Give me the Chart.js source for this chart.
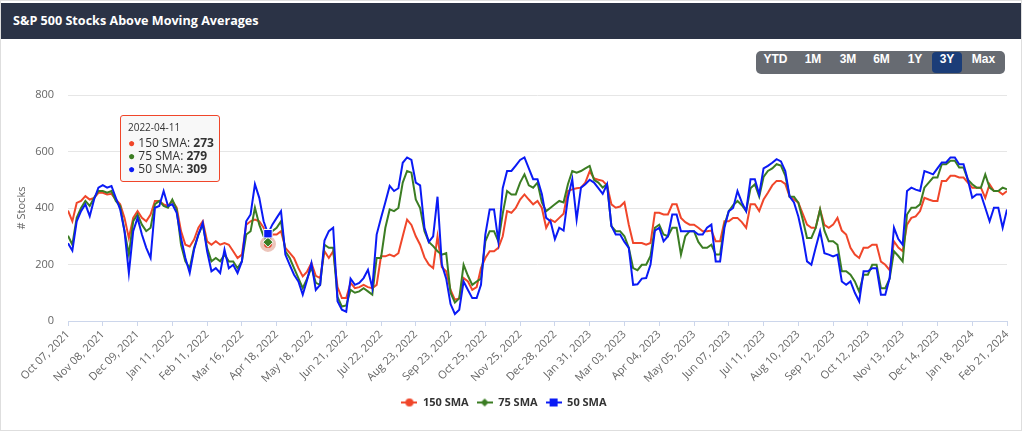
<!DOCTYPE html>
<html>
<head>
<meta charset="utf-8">
<title>S&amp;P 500 Stocks Above Moving Averages</title>
<script src="https://cdn.jsdelivr.net/npm/chart.js@4.4.1/dist/chart.umd.min.js"></script>
<style>
body { margin: 0; background: #fff; font-family: "Open Sans", sans-serif; }
#box { position: absolute; left: 0; top: 0; width: 1020px; height: 429px; border: 1px solid #dedede; }
#head { position: absolute; left: 0; top: 2px; width: 1020px; height: 36px; background: #2b3346;
  color: #fff; font: 700 12.6px "Open Sans", sans-serif; line-height: 36px; padding-left: 12px; box-sizing: border-box; }
#range { position: absolute; left: 755px; top: 50px; width: 249px; height: 23px; background: #676b72;
  border-radius: 5px; display: flex; }
#range span { display: block; height: 21px; margin-top: 1px; line-height: 22px; text-align: center; color: #fff;
  font: 700 12px "Liberation Sans", Arial, sans-serif; border-radius: 4px; }
#range span.on { background: #1b3d78; }
#wrap { position: absolute; left: 0; top: 79px; width: 1022px; height: 338px; }
#tip { position: absolute; display: none; background: rgba(247,247,247,0.9); border: 1px solid #f0462a;
  border-radius: 3px; padding: 5px 5px 6px 7px; color: #333; font: 12px "Open Sans", sans-serif; line-height: 13px;
  white-space: nowrap; pointer-events: none; }
#tip .d { font-size: 10px; margin-bottom: 2px; }
</style>
</head>
<body>
<div id="box">
  <div id="head">S&amp;P 500 Stocks Above Moving Averages</div>
  <div id="range">
    <span style="width:39px">YTD</span><span style="width:36px">1M</span><span style="width:34px">3M</span><span style="width:33px">6M</span><span style="width:34px">1Y</span><span class="on" style="width:30px">3Y</span><span style="width:43px">Max</span>
  </div>
  <div id="wrap"><canvas id="smaChart"></canvas><div id="tip"></div></div>
</div>
<script>
// tick labels on the date axis, one every 8 samples
const tickLabels = ['Oct 07, 2021', 'Nov 08, 2021', 'Dec 09, 2021', 'Jan 11, 2022', 'Feb 11, 2022', 'Mar 16, 2022',
  'Apr 18, 2022', 'May 18, 2022', 'Jun 21, 2022', 'Jul 22, 2022', 'Aug 23, 2022', 'Sep 23, 2022', 'Oct 25, 2022',
  'Nov 25, 2022', 'Dec 28, 2022', 'Jan 31, 2023', 'Mar 03, 2023', 'Apr 04, 2023', 'May 05, 2023', 'Jun 07, 2023',
  'Jul 11, 2023', 'Aug 10, 2023', 'Sep 12, 2023', 'Oct 12, 2023', 'Nov 13, 2023', 'Dec 14, 2023', 'Jan 18, 2024',
  'Feb 21, 2024'];
const samplesPerTick = 8;

// number of S&P 500 stocks above each moving average
const sma150 = [391,353,418,425,442,430,436,454,454,448,450,430,413,365,294,365,389,365,353,377,425,425,413,407,425,401,318,270,264,288,
  330,353,282,270,282,270,276,270,247,223,235,341,353,359,353,330,273,306,306,318,259,241,223,187,158,175,205,160,152,247,
  223,247,120,81,81,135,116,120,128,120,116,128,229,229,235,229,240,300,359,340,300,270,225,200,187,300,190,176,110,75,
  80,152,140,110,120,187,223,247,247,259,300,389,383,400,430,448,430,413,425,400,330,359,350,365,380,460,466,470,472,490,
  530,505,500,496,480,413,401,405,420,341,276,276,276,270,276,383,383,377,377,413,413,365,350,341,341,330,318,318,320,282,
  282,353,353,365,365,350,330,413,413,389,430,454,480,496,496,485,440,430,419,380,341,330,330,395,340,330,341,365,320,306,
  259,235,223,259,259,270,270,210,199,180,282,260,247,341,365,370,389,436,430,425,425,496,496,514,514,508,508,490,472,472,
  472,436,484,460,460,448,460];
const sma75 = [302,270,365,400,425,407,436,460,460,454,460,425,407,318,235,353,377,341,318,330,413,425,407,401,430,395,270,211,187,259,
  306,341,259,211,223,211,235,211,211,187,211,306,318,401,341,300,279,318,330,353,247,223,187,152,116,150,190,135,128,270,
  259,259,85,51,55,110,100,105,116,105,93,223,223,330,395,389,400,490,531,525,430,400,318,280,265,247,235,240,100,65,
  80,199,160,128,140,150,282,318,318,282,380,460,448,448,490,519,480,472,490,420,389,401,413,425,420,484,531,525,531,540,
  549,500,490,472,484,336,318,318,300,259,187,180,199,199,230,330,341,306,300,330,330,235,300,318,318,280,259,259,270,235,
  235,340,389,410,425,410,389,470,484,440,510,531,540,555,550,515,440,440,419,360,294,294,330,395,320,282,282,270,176,176,
  164,140,104,164,164,199,199,116,116,150,247,230,211,377,401,401,413,472,490,508,508,555,555,567,567,543,543,500,484,472,
  472,519,472,460,460,472,466];
const sma50 = [275,249,353,389,413,371,430,472,481,472,478,436,395,318,170,318,365,306,259,223,401,407,460,407,413,383,294,223,170,253,
  306,347,247,176,187,170,253,187,199,170,211,353,377,484,436,353,309,341,365,389,235,199,164,140,93,145,205,110,128,285,
  318,330,70,40,33,150,128,135,152,181,116,306,365,420,478,460,470,560,579,570,490,480,330,280,300,440,200,150,60,25,
  40,140,110,81,81,128,306,395,395,282,470,531,531,550,570,579,540,502,502,450,365,353,290,330,320,436,502,359,472,484,
  500,490,470,450,484,336,306,306,280,259,128,130,150,152,200,320,330,282,300,377,377,318,318,318,318,306,306,330,341,211,
  211,330,389,400,460,420,389,502,502,448,540,549,560,573,565,531,440,420,370,300,211,199,260,318,240,235,229,235,140,128,
  140,100,69,176,176,187,187,93,93,152,330,290,270,460,472,465,460,531,525,519,540,561,561,579,579,555,555,500,436,448,
  448,401,353,401,401,330,395];

// the sample the tooltip is pinned to
const hoverIndex = 46;
const hoverDate = '2022-04-11';

const red = '#f0462a', green = '#3b7d23', blue = '#0a1af5';

function toPoints(values) {
    return values.map((v, i) => ({ x: i / samplesPerTick, y: v }));
}

// small line + marker pictures for the legend
function legendIcon(color, shape) {
    const c = document.createElement('canvas');
    c.width = 16; c.height = 10;
    const g = c.getContext('2d');
    g.strokeStyle = color; g.fillStyle = color; g.lineWidth = 2;
    g.beginPath(); g.moveTo(0, 5); g.lineTo(16, 5); g.stroke();
    g.beginPath();
    if (shape === 'circle') g.arc(8, 5, 4, 0, Math.PI * 2);
    else if (shape === 'diamond') { g.moveTo(8, 1); g.lineTo(12, 5); g.lineTo(8, 9); g.lineTo(4, 5); g.closePath(); }
    else g.rect(4, 1, 8, 8);
    g.fill();
    return c;
}

const ctx = document.getElementById('smaChart').getContext('2d');
const smaChart = new Chart(ctx, {
    type: 'line',
    data: {
        datasets: [{
            label: '150 SMA', data: toPoints(sma150), borderColor: red, backgroundColor: red, order: 2,
            pointStyle: 'circle', pointHoverRadius: 4, pointHoverBackgroundColor: red,
            pointHoverBorderColor: 'rgba(200,90,60,0.35)', pointHoverBorderWidth: 8
        }, {
            label: '75 SMA', data: toPoints(sma75), borderColor: green, backgroundColor: green, order: 1,
            pointStyle: 'rectRot', pointHoverRadius: 5, pointHoverBackgroundColor: green,
            pointHoverBorderColor: '#fff', pointHoverBorderWidth: 1
        }, {
            label: '50 SMA', data: toPoints(sma50), borderColor: blue, backgroundColor: blue, order: 0,
            pointStyle: 'rect', pointHoverRadius: 6, pointHoverBackgroundColor: blue,
            pointHoverBorderColor: '#fff', pointHoverBorderWidth: 1
        }]
    },
    options: {
        responsive: true,
        maintainAspectRatio: false,
        animation: false,
        events: [],
        elements: {
            line: { borderWidth: 2, tension: 0 },
            point: { radius: 0, hitRadius: 0 }
        },
        layout: { padding: { top: 15, right: 16, left: 0, bottom: 0 } },
        scales: {
            x: {
                type: 'linear', min: 0, max: tickLabels.length - 1,
                afterFit: (s) => { s.height = 68; },
                ticks: {
                    stepSize: 1, autoSkip: false, minRotation: 45, maxRotation: 45, padding: 2,
                    color: '#666', font: { family: 'Open Sans', size: 11 },
                    callback: (v) => tickLabels[Math.round(v)]
                },
                grid: { drawOnChartArea: false, drawTicks: true, tickLength: 5, color: '#ccd6eb' },
                border: { color: '#ccd6eb' }
            },
            y: {
                min: 0, max: 800,
                // fixed width, and no extra room above/below for the label padding
                afterFit: (s) => { s.width = 67; s.paddingTop = 6; s.paddingBottom = 6; },
                ticks: { stepSize: 200, padding: 14, color: '#666', font: { family: 'Open Sans', size: 11 } },
                grid: { color: '#e6e6e6', drawTicks: false },
                border: { display: false },
                title: { display: true, text: '# Stocks', color: '#666', font: { family: 'Open Sans', size: 11 },
                    padding: { top: 14, bottom: 0 } }
            }
        },
        plugins: {
            legend: {
                position: 'bottom',
                labels: {
                    usePointStyle: true, pointStyleWidth: 16, padding: 8, color: '#333',
                    font: { family: 'Open Sans', size: 11, weight: '700' },
                    generateLabels: (chart) => chart.data.datasets.map((d, i) => ({
                        text: d.label, datasetIndex: i, fontColor: '#333', hidden: false,
                        pointStyle: legendIcon(d.borderColor, ['circle', 'diamond', 'rect'][i]),
                        lineWidth: 0, strokeStyle: 'transparent', fillStyle: d.borderColor
                    }))
                }
            },
            tooltip: {
                enabled: false,
                mode: 'index',
                intersect: false,
                itemSort: (a, b) => a.datasetIndex - b.datasetIndex,
                external: (context) => {
                    const tt = context.tooltip;
                    const el = document.getElementById('tip');
                    if (tt.opacity === 0) { el.style.display = 'none'; return; }
                    let html = '<div class="d">' + hoverDate + '</div>';
                    tt.dataPoints.forEach((p) => {
                        html += '<div><span style="color:' + p.dataset.borderColor + '">\u25CF</span> ' +
                            p.dataset.label + ': <b>' + p.raw.y + '</b></div>';
                    });
                    el.innerHTML = html;
                    el.style.display = 'block';
                    el.style.left = (tt.caretX - 148) + 'px';
                    el.style.top = (context.chart.chartArea.top + 20) + 'px';
                }
            }
        }
    }
});

const active = [0, 1, 2].map((d) => ({ datasetIndex: d, index: hoverIndex }));
smaChart.setActiveElements(active);
smaChart.tooltip.setActiveElements(active, { x: 0, y: 0 });
smaChart.update();
</script>
</body>
</html>
